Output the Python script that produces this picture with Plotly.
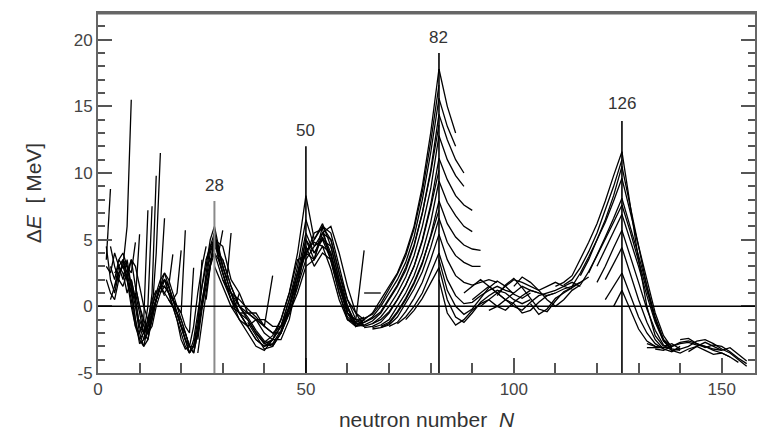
import plotly.graph_objects as go

# ---------------- data: isotopic chains (N start, values) ----------------
# light nuclei, step 1 in N
light_start = [2, 4, 2, 3, 4, 5, 6, 6, 8, 9, 10, 11, 12, 13, 14, 15, 16, 17, 18, 2, 3, 2, 3, 7, 9]
light_vals = [
    [3.5, 8.8],
    [1.5, 2.5, 3.0, 6.0, 15.5],
    [4.5, 2.0, 1.0, 2.5, 3.0, 3.0, 2.5, 4.8],
    [3.0, 2.0, 3.5, 4.0, 3.0, 1.5, 0.5, 5.4],
    [2.5, 3.0, 3.5, 2.0, 0.0, -1.5, -2.0, -1.0, 7.2],
    [3.5, 3.0, 2.0, 0.5, -1.5, -2.5, -2.0, 0.0, 7.5],
    [2.5, 2.0, 1.0, -1.0, -2.5, -3.0, -1.5, 1.0, 9.8],
    [3.5, 3.0, 1.5, 0.0, -2.0, -3.0, -2.5, -0.5, 4.0, 11.5],
    [2.0, 0.5, -1.5, -2.5, -2.0, -0.5, 0.5, 1.5, 6.6],
    [1.0, -0.5, -2.0, -2.5, -1.0, 0.5, 1.5, 1.0, 1.5, 3.9],
    [-1.0, -2.0, -1.5, -0.5, 0.5, 1.5, 2.0, 1.0, 0.5, 1.0, 4.2],
    [-2.0, -1.0, 0.0, 1.0, 2.0, 2.5, 1.5, 0.5, 0.0, -0.5, 5.7],
    [-1.5, -0.5, 0.5, 1.5, 2.5, 2.0, 1.0, 0.0, -0.5, -1.5, -2.0, 2.9],
    [-0.5, 0.5, 1.5, 2.0, 1.5, 0.5, 0.0, -1.0, -2.0, -3.0, -3.5, -2.0, 3.5],
    [0.5, 1.5, 1.5, 1.0, 0.5, -0.5, -1.5, -2.5, -3.5, -3.0, -1.0, 1.5, 3.5, 4.5, 5.0],
    [1.0, 1.5, 1.0, 0.0, -0.5, -1.5, -2.0, -3.0, -3.5, -2.0, 0.0, 2.5, 4.5, 5.5, 4.0, 5.7],
    [1.0, 0.5, 0.0, -1.0, -2.0, -3.0, -3.5, -2.5, -0.5, 1.5, 3.0, 5.0, 6.0, 4.5, 3.0, 2.0, 5.5],
    [0.5, 0.0, -0.5, -1.5, -2.5, -3.5, -3.0, -1.5, 0.5, 2.0, 4.0, 5.0, 3.5, 2.5, 1.5, 0.5, 0.0, 1.0],
    [0.0, -0.5, -1.0, -2.0, -3.0, -3.0, -2.0, 0.0, 1.5, 3.0, 4.0, 3.5, 2.5, 1.5, 1.0, 0.0, -0.5, -1.0, -1.5],
    [2.0, 1.0, 0.5, 2.0, 3.5, 2.5, 1.0],
    [4.5, 3.0, 2.0, 1.5, 2.5, 3.5, 3.0, 1.5, 0.0, -1.0],
    [3.0, 2.5, 4.0, 3.0, 2.0, 3.5, 1.5, -1.0, -2.8, -2.5, -1.0, 0.5, 1.2],
    [0.5, 1.5, 3.0, 2.5, 1.0, 2.0, 0.5, -1.5, -2.0, -1.5, 0.0, 1.0, 1.5, 0.8],
    [2.0, 3.5, 1.5, 0.0, -1.0, -2.0, -1.0, 0.5, 1.5, 2.0, 1.0, 0.0, -1.0, -2.5, -3.2, -3.0],
    [1.5, 0.0, -1.5, -2.0, -1.5, 0.0, 1.0, 2.0, 1.5, 0.5, -0.5, -1.5, -2.5, -3.0, -1.5, 1.0, 3.0, 4.5],
]

# around N = 28 .. 64, step 2
mid_start = [26, 24, 24, 26, 26, 28, 28, 30, 32, 36, 54, 64, 34, 38, 30]
mid_vals = [
    [0.5, 5.5, 3.0, 1.0, -0.5, -1.5, -2.5, -3.0, -2.5, -1.0, 1.0, 4.0, 8.3, 5.0, 6.0, 5.5, 3.0, 0.5, -1.0, -1.5],
    [-3.5, 1.0, 5.0, 2.5, 0.5, -1.0, -2.0, -3.0, -3.3, -2.5, -1.5, 0.5, 3.0, 6.5, 4.5, 5.5, 5.0, 2.5, 0.0, -1.5, -1.0],
    [-2.5, 2.0, 4.5, 3.5, 1.5, 0.0, -1.0, -2.0, -2.8, -3.0, -2.0, 0.0, 2.5, 5.5, 4.0, 5.0, 4.5, 2.0, -0.5, -1.5, -1.2],
    [3.0, 4.0, 2.0, 0.5, -0.5, -0.5, -1.0, -2.0, -2.5, -2.5, -1.0, 2.0, 5.0, 3.5, 4.5, 4.0, 1.5, -0.5, -1.2, -0.8],
    [3.5, 5.0, 3.0, 1.0, 0.0, -0.5, -0.5, -1.5, -2.0, -2.0, -0.5, 1.5, 4.5, 3.0, 4.0, 3.5, 1.0, -1.0, -1.5, -1.0],
    [3.0, 1.5, 0.0, -1.0, -1.5, -1.0, -1.0, -1.5, -1.5, 0.0, 2.0, 4.0, 3.5, 6.0, 5.0, 2.5, 0.5, -0.5, -1.0],
    [5.0, 4.5, 2.0, 1.0, -0.5, -1.0, -1.5, 2.3],
    [2.0, 1.0, 0.5, -0.2, -0.8, -1.5, -2.0, -1.5, -0.5, 1.0, 3.0, 3.5, 5.5, 6.0, 4.0, 1.5, -0.5, -1.5],
    [0.0, -0.5, -1.5, -2.5, -3.0, -2.8, -1.8, 0.0, 2.5, 4.0, 5.0, 6.2, 4.5, 2.0, 0.0, -1.3, -1.5],
    [-1.2, -2.2, -3.2, -3.0, -2.0, -0.5, 1.5, 3.5, 4.5, 5.0, 3.5, 1.5, -0.5, -1.5, -1.0],
    [5.5, 4.0, 1.5, -0.5, -1.0, 4.2],
    [1.0, 1.0, 1.0],
    [-0.5, -1.0, -2.0, -2.7, -2.2, -1.0, 1.0, 3.5, 3.8, 5.5, 5.8, 3.5, 1.0, -0.8, -1.4],
    [-2.0, -2.8, -2.5, -1.5, 0.5, 2.5, 4.2, 4.8, 4.5, 2.8, 0.5, -1.0, -1.3],
    [3.5, 1.5, 0.0, -0.8, -1.8, -2.6, -2.9, -2.0, -0.2, 2.0, 5.0, 4.0, 5.2, 3.8, 1.8, -0.2, -1.2],
]

# rising side of the N = 82 peak, step 2
p82_left_start = [60, 62, 62, 64, 64, 66, 66, 68, 70, 72, 74, 62, 64, 66, 68]
p82_left_vals = [
    [-1.0, -1.2, -1.0, -0.5, 0.5, 1.5, 2.5, 4.0, 6.0, 9.0, 13.0, 17.8],
    [-1.3, -1.2, -0.8, 0.0, 1.0, 2.0, 3.3, 5.2, 8.0, 11.5, 15.6],
    [-1.5, -1.4, -1.1, -0.5, 0.5, 1.5, 2.7, 4.5, 7.0, 10.2, 14.4],
    [-1.5, -1.3, -0.8, 0.0, 1.0, 2.2, 3.8, 6.0, 8.8, 12.8],
    [-1.6, -1.5, -1.2, -0.5, 0.5, 1.6, 3.0, 5.0, 7.6, 11.1],
    [-1.6, -1.4, -1.0, 0.0, 1.0, 2.3, 4.0, 6.3, 9.4],
    [-1.7, -1.6, -1.3, -0.5, 0.5, 1.7, 3.2, 5.3, 7.9],
    [-1.6, -1.4, -0.8, 0.2, 1.3, 2.6, 4.4, 6.6],
    [-1.5, -1.2, -0.4, 0.6, 1.8, 3.5, 5.4],
    [-1.3, -0.8, 0.0, 1.0, 2.5, 4.0],
    [-1.0, -0.3, 0.6, 1.7, 2.9],
    [-1.0, -0.9, -0.6, 0.2, 1.3, 2.4, 3.8, 5.8, 8.6, 12.3, 16.6],
    [-1.2, -0.9, -0.4, 0.6, 1.6, 2.9, 4.6, 7.0, 10.0, 13.6],
    [-1.3, -1.0, -0.4, 0.5, 1.6, 3.0, 4.9, 7.4, 10.2],
    [-1.5, -1.2, -0.4, 0.6, 1.8, 3.3, 5.2, 7.2],
]

# falling side of the N = 82 peak, step 2
p82_right_start = [82] * 13
p82_right_vals = [
    [17.8, 15.0, 13.0],
    [15.6, 13.5, 12.0],
    [14.4, 12.5, 11.0, 10.0],
    [12.8, 11.0, 9.8, 9.0],
    [11.1, 9.5, 8.3, 7.6, 7.2],
    [9.4, 7.8, 6.8, 6.0, 5.6],
    [7.9, 6.2, 5.2, 4.6, 4.3, 4.2],
    [6.6, 4.8, 3.8, 3.3, 3.0, 3.0],
    [5.4, 3.5, 2.3, 1.8, 1.6, 1.8, 2.0, 1.8],
    [4.0, 2.0, 0.8, 0.2, 0.3, 0.8, 1.2, 1.5, 1.2, 1.0],
    [2.9, 0.5, -0.8, -1.2, -0.5, 0.3, 0.8, 1.2, 1.0, 0.5, 0.2, 0.5],
    [2.0, -0.5, -1.4, -1.0, -0.3, 0.2, 0.5, 0.0, -0.3, 0.3, 0.8, 1.2, 1.0],
    [3.5, 1.2, 0.0, -0.6, -0.2, 0.6, 1.4, 1.9, 1.5, 0.9, 0.6, 1.0],
]

# plateau between the shells, step 2
band_start = [88, 90, 92, 94, 100, 96, 104]
band_vals = [
    [1.0, 1.5, 2.0, 1.5, 1.0, 1.5, 2.0, 1.8, 1.5, 1.2, 1.5, 1.8, 1.5, 1.8, 1.5],
    [0.5, 1.0, 1.5, 1.0, 0.5, 1.0, 1.5, 1.2, 1.0, 0.8, 1.0, 1.3, 1.5, 1.8, 2.2],
    [0.0, 0.5, 1.0, 0.5, 0.0, -0.3, 0.3, 0.8, 1.0, 1.2, 1.5, 1.3],
    [-0.3, 0.0, 0.5, 0.2, -0.5, -0.3, 0.3, 0.8, 1.0],
    [1.5, 2.2, 1.8, 1.2, 0.5, 0.0, 0.5, 1.2, 1.6],
    [0.8, 1.6, 2.1, 1.4, 0.6, -0.2, -0.4, 0.4, 1.1, 1.4],
    [0.2, -0.6, -0.2, 0.6, 1.0, 1.4, 1.8],
]

# rising side of the N = 126 peak, step 2
p126_left_start = [110, 114, 116, 118, 120, 120, 122, 122, 124, 112, 116]
p126_left_vals = [
    [1.5, 1.8, 2.3, 3.5, 4.8, 6.2, 7.9, 9.8, 11.6],
    [1.5, 2.5, 3.7, 5.0, 6.5, 8.3, 10.5],
    [2.3, 3.5, 5.0, 6.3, 7.9, 9.6],
    [2.5, 3.8, 5.2, 6.6, 8.1],
    [3.0, 4.3, 5.6, 6.9],
    [1.8, 3.0, 4.4, 5.7],
    [2.0, 3.2, 4.4],
    [0.5, 1.5, 2.5],
    [0.0, 1.2],
    [1.6, 2.0, 2.9, 4.1, 5.5, 7.2, 9.0, 11.0],
    [1.6, 2.6, 3.8, 5.0, 6.3, 7.6],
]

# falling side of the N = 126 peak, step 2
p126_right_start = [126] * 10
p126_right_vals = [
    [11.6, 7.5, 3.5, 0.0, -2.2, -3.0],
    [10.5, 7.5, 4.5, 1.5, -1.0, -2.5, -3.0],
    [9.6, 7.0, 4.5, 2.0, -0.5, -2.2, -3.1],
    [8.1, 6.0, 3.8, 1.5, -0.8, -2.5, -3.2],
    [6.9, 5.0, 3.0, 0.8, -1.2, -2.6, -3.2, -3.3],
    [5.7, 3.8, 1.8, -0.2, -1.8, -2.9, -3.3, -3.2],
    [4.4, 2.5, 0.5, -1.2, -2.5, -3.2, -3.4, -3.0],
    [2.5, 0.8, -0.8, -2.0, -2.8, -3.2],
    [1.2, -0.3, -1.7, -2.6, -3.0],
    [7.6, 5.6, 3.4, 1.2, -1.0, -2.6, -3.3],
]

# heavy tail, step 2
tail_start = [132, 132, 134, 136, 138, 140, 142]
tail_vals = [
    [-3.1, -3.1, -3.1, -3.1],
    [-2.8, -3.0, -3.1, -3.0, -2.8, -2.7, -2.9, -3.0, -3.2, -3.3],
    [-3.2, -3.3, -3.0, -2.7, -2.6, -2.8, -3.0, -3.3, -3.5, -3.8],
    [-3.0, -2.8, -3.2, -3.0, -2.6, -2.5, -2.8, -3.2, -3.5, -4.0, -4.5],
    [-3.3, -3.5, -3.2, -3.0, -3.3, -3.6, -3.5, -3.8, -4.2],
    [-2.5, -2.4, -2.8, -3.1, -2.9, -3.0, -3.4, -3.9, -4.3],
    [-3.4, -3.0, -2.7, -3.0, -3.3, -3.1, -3.6, -4.1],
]

# magic numbers
magic_N = [28, 50, 82, 126]
magic_top = [7.9, 12.0, 19.0, 13.9]
magic_label_y = [9.1, 13.2, 20.2, 15.2]
magic_color = ["#8a8a8a", "black", "black", "black"]

x_ticks = [0, 50, 100, 150]
y_ticks = [-5, 0, 5, 10, 15, 20]
y_tick_text = ["-5", "0", "5", "10", "15", "20"]

# ---------------- figure ----------------
fig = go.Figure()
families = [
    (light_start, light_vals, 1),
    (mid_start, mid_vals, 2),
    (p82_left_start, p82_left_vals, 2),
    (p82_right_start, p82_right_vals, 2),
    (band_start, band_vals, 2),
    (p126_left_start, p126_left_vals, 2),
    (p126_right_start, p126_right_vals, 2),
    (tail_start, tail_vals, 2),
]
for starts, vals, step in families:
    for s, v in zip(starts, vals):
        xs = [s + step * i for i in range(len(v))]
        fig.add_trace(go.Scatter(x=xs, y=v, mode="lines",
                                 line=dict(color="black", width=1.3),
                                 showlegend=False, hoverinfo="skip"))

shapes = []
for n, top, col in zip(magic_N, magic_top, magic_color):
    shapes.append(dict(type="line", xref="x", yref="y", x0=n, x1=n, y0=-5, y1=top,
                       line=dict(color=col, width=2 if col != "black" else 1.6)))
shapes.append(dict(type="line", xref="paper", yref="y", x0=0, x1=1, y0=0, y1=0,
                   line=dict(color="black", width=1.5)))
shapes.append(dict(type="line", xref="paper", yref="paper", x0=0, x1=1, y0=1, y1=1,
                   line=dict(color="#666", width=3)))

annotations = []
for n, ly in zip(magic_N, magic_label_y):
    annotations.append(dict(x=n, y=ly, xref="x", yref="y", text=str(n), showarrow=False,
                            font=dict(size=17, color="#333", family="Liberation Sans, Arial")))

fig.update_layout(
    width=757, height=438,
    margin=dict(l=98, r=0, t=13, b=65),
    paper_bgcolor="white", plot_bgcolor="white",
    font=dict(family="Liberation Sans, Arial", color="#333"),
    shapes=shapes, annotations=annotations,
    xaxis=dict(range=[0, 158], tickvals=x_ticks, ticks="inside", ticklen=15, tickwidth=1.5,
               tickcolor="#555", showline=True, linecolor="#666", linewidth=2, mirror=True,
               showgrid=False, zeroline=False, tickfont=dict(size=17, color="#444"),
               minor=dict(dtick=10, ticks="inside", ticklen=10, tickwidth=1.5, tickcolor="#555"),
               title=dict(text="neutron number  <i>N</i>", font=dict(size=21, color="#333"),
                          standoff=14)),
    yaxis=dict(range=[-5, 22], tickvals=y_ticks, ticktext=y_tick_text, ticks="inside",
               ticklen=14, tickwidth=1.5,
               tickcolor="#555", showline=True, linecolor="#666", linewidth=2, mirror="ticks",
               showgrid=False, zeroline=False, tickfont=dict(size=17, color="#444"),
               minor=dict(dtick=1, ticks="inside", ticklen=7, tickwidth=1.5, tickcolor="#555"),
               title=dict(text="Δ<i>E</i>  [ MeV]", font=dict(size=21, color="#333"),
                          standoff=26)),
)

fig.write_html("out.html")
